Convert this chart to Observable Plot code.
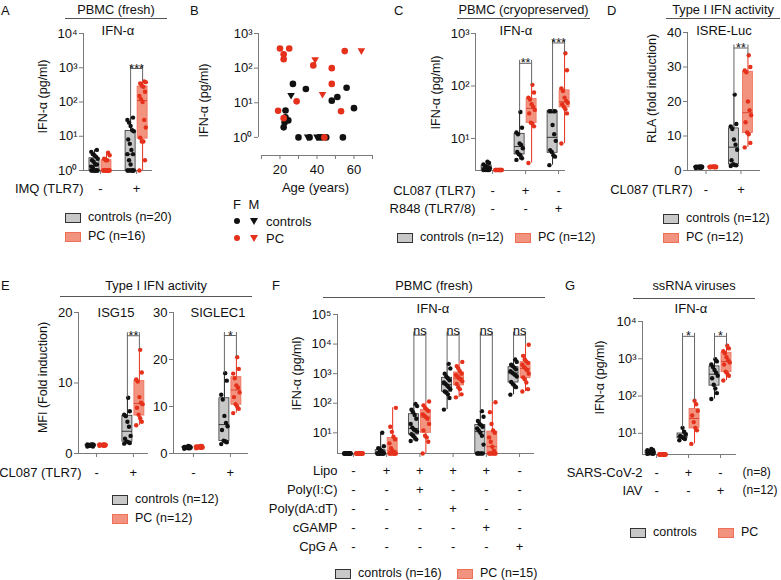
<!DOCTYPE html>
<html><head><meta charset="utf-8">
<script src="https://cdn.jsdelivr.net/npm/d3@7"></script>
<script src="https://cdn.jsdelivr.net/npm/@observablehq/plot@0.6"></script>
<style>
body{margin:0;background:#fff;font-family:"Liberation Sans",Arial,sans-serif;color:#111;}
#fig{position:relative;width:781px;height:580px;overflow:hidden;background:#fff;}
.t{position:absolute;white-space:nowrap;line-height:1;}
.ln{position:absolute;height:1px;background:#555;}
.sw{position:absolute;width:14px;height:8px;}
.mk{position:absolute;}
</style></head><body><div id="fig"></div>
<script>
// ---------------- DATA ----------------
// A: PBMC (fresh), IMQ (TLR7): [unstim, IMQ]
const aConditions = ["-", "+"];
const aCtrl = [[1,1,1,1,1,1,1,1,1.2,1.3,1.5,1.5,1.8,2,2.2,2.5,2.8,3,3.5,4],
               [1,1,1,1,1,1,1,1.5,2,3,3,4,6,8,14,15,20,25,30,35]];
const aPC   = [[1,1,1,1,1,1,1,1,1,1,1,2,2,2.2,2.8,3.3],
               [1,2,7,7,9,18,30,100,120,150,200,280,300,350,380,400]];
const aSig = [{g:1, level:950, text:"***"}];

// B: age vs IFN-α
const bCtrlAge = [22,23,23,24.5,22.5,26,27,30,34,35,36,40,41,42.5,45,48,51,54,56,60];
const bCtrlVal = [1.95,6,3.8,3.1,2.7,16,35,1,25,1,1,1,1,1,1,11.5,14.6,1,27,7];
const bCtrlSex = ["F","F","F","F","F","M","F","F","F","M","F","M","F","F","F","F","F","F","F","F"];
const bPcAge = [19,20,22,22,25,22,29,38,39,43,44,48,48,53,55,64];
const bPcVal = [5.9,370,250,180,370,3.6,11,120,170,17,1,100,35,5.7,310,310];
const bPcSex = ["F","F","F","F","F","F","F","F","M","M","F","F","F","F","F","M"];

// C: PBMC (cryopreserved): [unstim, CL087, R848]
const cRow1 = ["-", "+", "-"];
const cRow2 = ["-", "-", "+"];
const cCtrl = [[2.5,2.5,2.5,2.5,2.6,2.7,2.8,2.9,3,3.2,3.4,3.6],
               [3.9,4.2,4.8,5,5.5,6.5,7.5,8,12,13,16,32],
               [3.1,4.5,4.8,5.5,6,9,12,18,33,33,33,33]];
const cPC   = [[2.5,2.5,2.5,2.5,2.5,2.5,2.5,2.5,2.5,2.5,2.5,2.5],
               [3.4,17,19,20,30,35,40,45,55,60,75,105],
               [8,30,36,40,45,48,52,60,80,90,200,420]];
const cSig = [{g:1, level:270, text:"**"}, {g:2, level:660, text:"***"}];

// D: ISRE-Luc RLA
const dRow = ["-", "+"];
const dCtrl = [[0.7,0.8,0.8,0.9,0.9,1,1,1,1.1,1.1,1.2,1.2],
               [1.3,1.5,1.6,1.8,3,6,7.5,9,12,12.8,13.5,22]];
const dPC   = [[0.9,0.9,1,1,1,1,1,1.1,1.1,1.1,1.2,1.2],
               [6.7,8,10.5,11,14,16,17.5,20,28.5,29,30,33.4]];
const dSig = [{g:1, level:35.5, text:"**"}];

// E: MFI fold induction
const eRow = ["-", "+"];
const eIsgCtrl = [[1,1,1.1,1.1,1.1,1.2,1.2,1.2,1.2,1.3,1.3,1.3],
                  [1.4,1.5,1.6,1.7,2.1,2.5,3.8,4.5,5.3,5.5,6,7.9]];
const eIsgPC   = [[1.1,1.1,1.1,1.2,1.2,1.2,1.2,1.2,1.2,1.3,1.3,1.3],
                  [4,4.5,5,5.5,6.5,7,7.2,8,10.2,10.5,11.5,14.7]];
const eIsgSig = [{g:1, level:16.7, text:"**"}];
const eSigCtrl = [[1,1.1,1.1,1.2,1.2,1.3,1.3,1.3,1.4,1.4,1.5,1.6],
                  [2,2.4,2.6,2.7,5,5.8,6.5,8,11.5,12.5,15.5,17.1]];
const eSigPC   = [[1.1,1.2,1.2,1.3,1.3,1.3,1.4,1.4,1.5,1.5,1.6,1.6],
                  [8.6,9.5,10,10.5,12,13,14,14.5,16,17,18,20.5]];
const eSiglecSig = [{g:1, level:25.1, text:"*"}];

// F: PBMC (fresh), 6 conditions
const fRowLabels = ["Lipo", "Poly(I:C)", "Poly(dA:dT)", "cGAMP", "CpG A"];
const fRowSigns = [["-","+","+","+","+","-"],
                   ["-","-","+","-","-","-"],
                   ["-","-","-","+","-","-"],
                   ["-","-","-","-","+","-"],
                   ["-","-","-","-","-","+"]];
const fCtrl = [[2,2,2,2,2,2,2,2,2,2,2,2,2,2,2,2],
               [2,2,2,2,2,2,2,2,2,2,2.2,2.5,2.8,3,3.5,10],
               [5.3,6,7,8,9,11,12,13,15,20,30,40,50,60,80,95],
               [61,150,200,230,250,300,350,400,450,500,600,700,800,1000,1500,2150],
               [2,2,2,2,2,4,8,10,12,14,16,18,20,25,35,54],
               [195,350,400,450,520,800,900,1000,1100,1200,1400,1600,1800,2000,2500,3000]];
const fPC   = [[2,2,2,2,2,2,2,2,2,2,2,2,2,2,2],
               [2,2,2,2,2,2,2,2.5,3,4.4,6,7.4,10.8,16,70],
               [2,5,7,8,12,20,30,34,38,42,55,62,70,85,114],
               [158,200,300,350,450,550,650,700,800,900,1000,1200,1500,1800,2500],
               [2,2,2,2,2,2,2.5,3.4,5,7,10,12,20,50,108],
               [250,300,500,650,750,1000,1300,1500,1700,2000,2300,2600,3000,4000,9500]];
const fSig = [{g:2, level:20000, text:"ns"}, {g:3, level:20000, text:"ns"},
              {g:4, level:20000, text:"ns"}, {g:5, level:20000, text:"ns"}];

// G: ssRNA viruses
const gRowLabels = ["SARS-CoV-2", "IAV"];
const gRowSigns = [["-","+","-"], ["-","-","+"]];
const gRowNotes = ["(n=8)", "(n=12)"];
const gCtrl = [[2.8,2.8,2.9,2.9,3,3,3.1,3.2,3.3,3.5,3.6,3.8],
               [6.5,7,7.5,8,8.5,9.5,11,14],
               [83,120,160,200,300,350,420,500,600,700,850,970]];
const gPC   = [[2.7,2.7,2.7,2.7,2.7,2.7,2.7,2.7,2.7,2.7,2.7,2.7],
               [5.2,12,14,20,30,40,60,75],
               [260,350,400,450,700,800,900,1100,1400,1600,1900,2240]];
const gSig = [{g:1, level:4000, text:"*"}, {g:2, level:4000, text:"*"}];

// ---------------- STYLE / HELPERS ----------------
const FONT = "Liberation Sans, Arial, sans-serif";
const AXIS = "#7a7a7a", SIGC = "#666";
const CTRL = {fill:"#c8c8c8", stroke:"#333", dot:"#111", med:"#222", whisk:"#222"};
const PCS  = {fill:"#f2937f", stroke:"#ee6e58", dot:"#e5301b", med:"#d63c28", whisk:"#e5301b"};
const SUP = {"0":"⁰","1":"¹","2":"²","3":"³","4":"⁴","5":"⁵"};
const logFmt = d => "10" + SUP[Math.round(Math.log10(d))];
const jitter = i => (((i * 7) % 9) - 4) * 0.8;
const TICK = 13, ROW = 13, TITLE = 12.5, LEG = 12.5, HEAD = 12.8;
const fig = document.getElementById("fig");

function stats(values, x) {
  const s = values.slice().sort(d3.ascending);
  return {x, min: s[0], max: s[s.length-1], q1: d3.quantile(s, 0.25), med: d3.quantile(s, 0.5), q3: d3.quantile(s, 0.75)};
}
function place(svg, left, top) {
  svg.style.position = "absolute"; svg.style.left = left + "px"; svg.style.top = top + "px";
  fig.appendChild(svg);
}
function txt(s, x, y, size = 12, anchor = "middle") {
  const d = document.createElement("div");
  d.className = "t"; d.textContent = s; d.style.fontSize = size + "px";
  d.style.left = x + "px"; d.style.top = y + "px";
  const tx = anchor === "middle" ? "-50%" : anchor === "end" ? "-100%" : "0";
  d.style.transform = `translate(${tx},-50%)`;
  fig.appendChild(d);
}
function hline(x0, x1, y) {
  const d = document.createElement("div");
  d.className = "ln"; d.style.left = x0 + "px"; d.style.width = (x1 - x0) + "px"; d.style.top = y + "px";
  fig.appendChild(d);
}
function header(s, x0, x1, yText, yLine) { txt(s, (x0 + x1) / 2, yText, HEAD); hline(x0, x1, yLine); }
function swatch(x, y, sty) {
  const d = document.createElement("div");
  d.className = "sw"; d.style.left = x + "px"; d.style.top = (y - 4.5) + "px";
  d.style.background = sty.fill; d.style.border = "1px solid " + sty.stroke;
  fig.appendChild(d);
}
function legendItem(x, y, sty, label) { swatch(x, y, sty); txt(label, x + 23, y, LEG, "start"); }

function boxPanel(c) {
  const [x0, y0, x1, y1] = c.frame, [pl, pt, pr, pb] = c.pad;
  const [xlo, xhi] = c.xDomain, [ymin, ymax] = c.yDomain;
  const k = (x1 - x0) / (xhi - xlo);
  const off = (c.off ?? 6) / k, hw = 5 / k;
  const marks = [];
  marks.push(Plot.ruleX([{x: xlo, a: ymin, b: ymax}], {x: "x", y1: "a", y2: "b", stroke: AXIS}));
  marks.push(Plot.ruleY([{y: ymin, a: xlo, b: xhi}], {y: "y", x1: "a", x2: "b", stroke: AXIS}));
  marks.push(Plot.axisY({ticks: c.yTicks, tickFormat: c.yFormat, tickSize: 4, tickPadding: 2, stroke: AXIS, fill: "#111", fontSize: TICK, label: null}));
  marks.push(Plot.axisX({ticks: d3.range(c.ctrl.length), tickFormat: () => "", tickSize: 4, stroke: AXIS, label: null}));
  const st = {};
  [[c.ctrl, CTRL, -1, "ctrl"], [c.pc, PCS, 1, "pc"]].forEach(([groups, sty, sgn, key]) => {
    const S = [], D = [];
    groups.forEach((vals, g) => {
      const cx = g + sgn * off;
      const s = stats(vals, cx); s.xl = cx - hw; s.xr = cx + hw; S.push(s);
      vals.forEach((v, i) => D.push({x: cx + jitter(i) / k, v}));
    });
    st[key] = S; st[key + "D"] = D;
    marks.push(Plot.ruleX(S, {x: "x", y1: "min", y2: "max", stroke: sty.whisk, strokeWidth: 1}));
    marks.push(Plot.rect(S, {x1: "xl", x2: "xr", y1: "q1", y2: "q3", fill: sty.fill, stroke: sty.stroke, strokeWidth: 0.8}));
    marks.push(Plot.ruleY(S, {y: "med", x1: "xl", x2: "xr", stroke: sty.med, strokeWidth: 0.9}));
  });
  marks.push(Plot.dot(st.ctrlD, {x: "x", y: "v", r: 2.2, fill: CTRL.dot}));
  marks.push(Plot.dot(st.pcD, {x: "x", y: "v", r: 2.2, fill: PCS.dot}));
  if (c.sig) {
    const S = c.sig.map(s => {
      const a = st.ctrl[s.g], b = st.pc[s.g];
      return {xa: a.x, xb: b.x, xm: (a.x + b.x) / 2, level: s.level, text: s.text, ma: a.max, mb: b.max};
    });
    const legs = S.flatMap(s => [{x: s.xa, lo: s.ma, hi: s.level}, {x: s.xb, lo: s.mb, hi: s.level}]);
    marks.push(Plot.ruleY(S, {y: "level", x1: "xa", x2: "xb", stroke: SIGC}));
    marks.push(Plot.ruleX(legs, {x: "x", y1: "lo", y2: "hi", insetBottom: 3, stroke: SIGC}));
    marks.push(Plot.text(S, {x: "xm", y: "level", text: "text", lineAnchor: "bottom", dy: c.sigDy ?? 4, fontSize: 12.5}));
  }
  (c.rows || []).forEach(r => {
    marks.push(Plot.text(r.signs.map((t, g) => ({x: g, y: ymin, t})), {x: "x", y: "y", text: "t", dy: r.dy, fontSize: ROW}));
    marks.push(Plot.text([{x: xlo, y: ymin, t: r.label}], {x: "x", y: "y", text: "t", dy: r.dy, dx: c.rowDx ?? 0, textAnchor: "end", fontSize: ROW}));
    if (r.note) marks.push(Plot.text([{x: xhi, y: ymin, t: r.note}], {x: "x", y: "y", text: "t", dy: r.dy, dx: 6, textAnchor: "start", fontSize: 12}));
  });
  if (c.yTitle) {
    marks.push(Plot.text([c.yTitle[0]], {frameAnchor: "left", textAnchor: "middle", rotate: -90, dx: c.yTitle[1] - x0, dy: c.yTitle[2] - (y0 + y1) / 2, fontSize: TITLE}));
  }
  const svg = Plot.plot({
    width: x1 - x0 + pl + pr, height: y1 - y0 + pt + pb,
    marginLeft: pl, marginRight: pr, marginTop: pt, marginBottom: pb,
    x: {type: "linear", domain: [xlo, xhi]},
    y: {type: c.yType, domain: [ymin, ymax]},
    style: {fontFamily: FONT, fontSize: "12px", color: "#111", background: "transparent", overflow: "visible"},
    marks
  });
  place(svg, x0 - pl, y0 - pt);
}

// ---------------- PANEL A ----------------
txt("A", 1, 10, 13, "start");
header("PBMC (fresh)", 65, 167, 10, 18);
txt("IFN-α", 118, 30, 13);
boxPanel({frame: [83, 33, 152, 170], pad: [83, 33, 10, 40], xDomain: [-0.47, 1.44],
  yType: "log", yDomain: [1, 10000], yTicks: [1, 10, 100, 1000, 10000], yFormat: logFmt,
  ctrl: aCtrl, pc: aPC, sig: aSig,
  rows: [{label: "IMQ (TLR7)", signs: aConditions, dy: 18}], yTitle: ["IFN-α (pg/ml)", 42, 96]});
legendItem(65, 217, CTRL, "controls (n=20)");
legendItem(65, 236, PCS, "PC (n=16)");

// ---------------- PANEL B ----------------
txt("B", 190, 10, 13, "start");
{
  const triDown = {draw(ctx, size) { const a = Math.sqrt(size / Math.PI);
    ctx.moveTo(-a * 1.15, -a * 0.85); ctx.lineTo(a * 1.15, -a * 0.85); ctx.lineTo(0, a * 1.15); ctx.closePath(); }};
  const ctrl = bCtrlAge.map((a, i) => ({age: a, v: bCtrlVal[i], sex: bCtrlSex[i]}));
  const pc = bPcAge.map((a, i) => ({age: a, v: bPcVal[i], sex: bPcSex[i]}));
  const x0 = 258, y0 = 33, x1 = 372, y1 = 155, pl = 68, pt = 33, pr = 10, pb = 45;
  const svg = Plot.plot({
    width: x1 - x0 + pl + pr, height: y1 - y0 + pt + pb,
    marginLeft: pl, marginRight: pr, marginTop: pt, marginBottom: pb,
    x: {type: "linear", domain: [8.4, 70]},
    y: {type: "log", domain: [0.3, 1000]},
    style: {fontFamily: FONT, fontSize: "12px", color: "#111", background: "transparent", overflow: "visible"},
    marks: [
      Plot.ruleX([{x: 8.4, a: 1, b: 1000}], {x: "x", y1: "a", y2: "b", stroke: AXIS}),
      Plot.ruleY([{y: 0.3, a: 10, b: 70}], {y: "y", x1: "a", x2: "b", stroke: AXIS}),
      Plot.axisY({ticks: [1, 10, 100, 1000], tickFormat: logFmt, tickSize: 4, tickPadding: 2, stroke: AXIS, fill: "#111", fontSize: TICK, label: null}),
      Plot.axisX({ticks: [10, 20, 30, 40, 50, 60, 70], tickFormat: d => d % 20 === 0 ? String(d) : "", tickSize: 4, tickPadding: 5, stroke: AXIS, fill: "#111", fontSize: TICK, label: null}),
      Plot.dot(ctrl.filter(d => d.sex === "F"), {x: "age", y: "v", r: 3.3, fill: "#111"}),
      Plot.dot(ctrl.filter(d => d.sex === "M"), {x: "age", y: "v", r: 3.3, fill: "#111", symbol: triDown}),
      Plot.dot(pc.filter(d => d.sex === "F"), {x: "age", y: "v", r: 3.3, fill: "#e5301b"}),
      Plot.dot(pc.filter(d => d.sex === "M"), {x: "age", y: "v", r: 3.3, fill: "#e5301b", symbol: triDown}),
      Plot.text(["Age (years)"], {frameAnchor: "bottom", dy: 36, fontSize: 13}),
      Plot.text(["IFN-α (pg/ml)"], {frameAnchor: "left", textAnchor: "middle", rotate: -90, dx: 203 - x0, dy: 100 - (y0 + y1) / 2, fontSize: TITLE})
    ]
  });
  place(svg, x0 - pl, y0 - pt);
  txt("F", 237, 204, 13); txt("M", 254, 204, 13);
  const dot = (x, y, col) => { const d = document.createElement("div"); d.className = "mk";
    Object.assign(d.style, {left: (x - 3.3) + "px", top: (y - 3.3) + "px", width: "6.6px", height: "6.6px", borderRadius: "50%", background: col}); fig.appendChild(d); };
  const tri = (x, y, col) => { const d = document.createElement("div"); d.className = "mk";
    Object.assign(d.style, {left: (x - 4) + "px", top: (y - 3) + "px", width: 0, height: 0, borderLeft: "4px solid transparent", borderRight: "4px solid transparent", borderTop: "7px solid " + col}); fig.appendChild(d); };
  dot(237, 221, "#111"); tri(254, 221, "#111"); txt("controls", 266, 221, 13, "start");
  dot(237, 238, "#e5301b"); tri(254, 238, "#e5301b"); txt("PC", 266, 238, 13, "start");
}

// ---------------- PANEL C ----------------
txt("C", 394, 10, 13, "start");
header("PBMC (cryopreserved)", 457, 590, 10, 18);
txt("IFN-α", 516, 30, 13);
boxPanel({frame: [475, 33, 565, 170], pad: [93, 33, 12, 50], xDomain: [-0.52, 2.21],
  yType: "log", yDomain: [2.45, 1000], yTicks: [10, 100, 1000], yFormat: logFmt,
  ctrl: cCtrl, pc: cPC, sig: cSig,
  rows: [{label: "CL087 (TLR7)", signs: cRow1, dy: 20}, {label: "R848 (TLR7/8)", signs: cRow2, dy: 38}],
  yTitle: ["IFN-α (pg/ml)", 435, 92]});
legendItem(397, 237, CTRL, "controls (n=12)");
legendItem(515, 237, PCS, "PC (n=12)");

// ---------------- PANEL D ----------------
txt("D", 607, 10, 13, "start");
header("Type I IFN activity", 666, 780, 10, 18);
txt("ISRE-Luc", 724, 30, 13);
boxPanel({frame: [687, 32, 760, 170], pad: [90, 32, 15, 40], xDomain: [-0.53, 1.56], off: 7,
  yType: "linear", yDomain: [0, 40], yTicks: [0, 10, 20, 30, 40], yFormat: d => String(d),
  ctrl: dCtrl, pc: dPC, sig: dSig, rowDx: 5,
  rows: [{label: "CL087 (TLR7)", signs: dRow, dy: 19}], yTitle: ["RLA (fold induction)", 651, 88]});
legendItem(663, 218, CTRL, "controls (n=12)");
legendItem(663, 237, PCS, "PC (n=12)");

// ---------------- PANEL E ----------------
txt("E", 1, 285, 13, "start");
header("Type I IFN activity", 60, 252, 286, 296);
txt("ISG15", 116, 312, 13);
txt("SIGLEC1", 218, 312, 13);
boxPanel({frame: [78, 312, 148, 453], pad: [78, 30, 8, 30], xDomain: [-0.49, 1.41],
  yType: "linear", yDomain: [0, 20], yTicks: [0, 10, 20], yFormat: d => String(d),
  ctrl: eIsgCtrl, pc: eIsgPC, sig: eIsgSig, rowDx: 3,
  rows: [{label: "CL087 (TLR7)", signs: eRow, dy: 19}], yTitle: ["MFI (Fold induction)", 42, 377]});
boxPanel({frame: [173, 312, 248, 453], pad: [24, 30, 8, 30], xDomain: [-0.54, 1.49],
  yType: "linear", yDomain: [0, 30], yTicks: [0, 10, 20, 30], yFormat: d => String(d),
  ctrl: eSigCtrl, pc: eSigPC, sig: eSiglecSig,
  rows: [{label: "", signs: eRow, dy: 19}]});
legendItem(112, 499, CTRL, "controls (n=12)");
legendItem(112, 518, PCS, "PC (n=12)");

// ---------------- PANEL F ----------------
txt("F", 272, 285, 13, "start");
header("PBMC (fresh)", 323, 545, 286, 297);
txt("IFN-α", 433, 308, 13);
boxPanel({frame: [337, 314, 534, 453], pad: [75, 32, 8, 105], xDomain: [-0.48, 5.45],
  yType: "log", yDomain: [2, 100000], yTicks: [10, 100, 1000, 10000, 100000], yFormat: logFmt,
  ctrl: fCtrl, pc: fPC, sig: fSig, sigDy: 0,
  rows: fRowLabels.map((l, i) => ({label: l, signs: fRowSigns[i], dy: 17 + 19 * i})),
  yTitle: ["IFN-α (pg/ml)", 296, 373]});
legendItem(335, 573, CTRL, "controls (n=16)");
legendItem(457, 573, PCS, "PC (n=15)");

// ---------------- PANEL G ----------------
txt("G", 565, 285, 13, "start");
header("ssRNA viruses", 633, 755, 286, 298);
txt("IFN-α", 691, 308, 13);
boxPanel({frame: [642, 321, 736, 454], pad: [80, 35, 44, 45], xDomain: [-0.44, 2.5],
  yType: "log", yDomain: [2.7, 10000], yTicks: [10, 100, 1000, 10000], yFormat: logFmt,
  ctrl: gCtrl, pc: gPC, sig: gSig,
  rows: gRowLabels.map((l, i) => ({label: l, signs: gRowSigns[i], dy: 18 + 18 * i, note: gRowNotes[i]})),
  yTitle: ["IFN-α (pg/ml)", 599, 377]});
legendItem(630, 532, CTRL, "controls");
legendItem(718, 532, PCS, "PC");
</script></body></html>
